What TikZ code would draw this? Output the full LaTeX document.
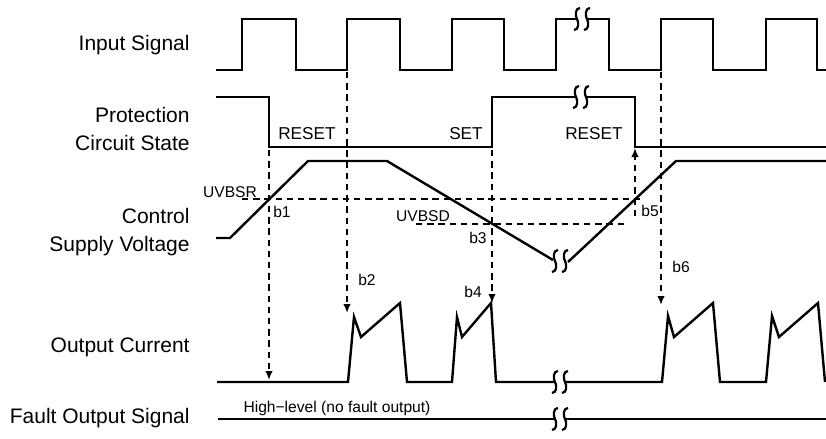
\documentclass[tikz,border=0pt]{standalone}
\usepackage{fontspec}
\setmainfont{Liberation Sans}
\usetikzlibrary{arrows.meta}
\tikzset{
  sig/.style={line width=1.2pt},
  guide/.style={line width=1.15pt,dash pattern=on 3.2pt off 2.4pt},
  probe/.style={guide,-{Latex[length=4.5pt,width=3.8pt]}},
  rowname/.style={font=\fontsize{10.5}{14}\selectfont,align=right,anchor=east,inner sep=0pt},
  statetxt/.style={font=\fontsize{8.6}{10}\selectfont,inner sep=0pt},
  smalltxt/.style={font=\fontsize{7.8}{9}\selectfont,inner sep=0pt},
}
\newcommand\brk[2]{%
  \fill[white] (#1-5,#2-4) rectangle (#1+5,#2+4);
  \foreach \dx in {-5,5}
    \draw[line width=1.1pt] (#1+\dx+3,#2-11) .. controls (#1+\dx-2,#2-11) and (#1+\dx-2,#2-3) .. (#1+\dx,#2)
      .. controls (#1+\dx+2,#2+3) and (#1+\dx+2,#2+11) .. (#1+\dx-3,#2+11);
}
\begin{document}
\begin{tikzpicture}[x=0.5pt,y=-0.5pt]
    \useasboundingbox (0,0) rectangle (826,439);
    % row names
    \node[rowname] (nin) at (190,45) {Input Signal};
    \node[rowname] (nps) at (190,129) {Protection\\Circuit State};
    \node[rowname] (ncv) at (190,232) {Control\\Supply Voltage};
    \node[rowname] (noc) at (190,347) {Output Current};
    \node[rowname] (nfo) at (190,418) {Fault Output Signal};
    % waveforms
    \draw[sig] (216,70) -| (242,19) -| (296,70) -| (347,19) -| (400,70) -| (452,19) -| (504,70) -| (556,19)
        -| (609,70) -| (661,19) -| (713,70) -| (766,19) -| (817,70) -- (826,70);
    \draw[sig] (216,97) -| (269,147) -| (492,97) -| (635,147) -- (826,147);
    \draw[sig] (216,238) -- (230,238) -- (308,161) -- (387,161) -- (553,260);
    \draw[sig] (568,262) -- (676,161) -- (826,161);
    \draw[sig] (217,382) -- (348,382) -- (354,317) -- (361,337) -- (400,303) -- (407,382) -- (452,382)
        -- (457,317) -- (462,337) -- (491,303) -- (496,382) -- (662,382) -- (668,316) -- (674,337)
        -- (713,303) -- (720,382) -- (766,382) -- (772,316) -- (779,337) -- (818,303) -- (825,382);
    \draw[sig] (218,419) -- (826,419);
    \brk{582}{19}
    \brk{581}{97}
    \brk{560}{261}
    \brk{560}{382}
    \brk{560}{419}
    % thresholds
    \draw[guide] (242,199) -- (643,199);
    \draw[guide] (416,224) -- (625,224);
    \node[smalltxt] (uvbsr) at (230,192) {UVBSR};
    \node[smalltxt] (uvbsd) at (423,216) {UVBSD};
    % timing points
    \coordinate (r1) at (269,150);
    \coordinate (o1) at (269,380);
    \coordinate (i2) at (347,72);
    \coordinate (o2) at (347,313);
    \coordinate (s3) at (492,150);
    \coordinate (o3) at (492,303);
    \coordinate (u5) at (635,216);
    \coordinate (r5) at (635,148);
    \coordinate (i6) at (661,72);
    \coordinate (o6) at (661,305);
    \draw[probe] (r1) -- (o1);
    \draw[probe] (i2) -- (o2);
    \draw[probe] (s3) -- (o3);
    \draw[probe] (u5) -- (r5);
    \draw[probe] (i6) -- (o6);
    % labels
    \node[statetxt] (rs1) at (307,134) {RESET};
    \node[statetxt] (st) at (466,134) {SET};
    \node[statetxt] (rs2) at (594,134) {RESET};
    \node[smalltxt] (b1) at (282,212) {b1};
    \node[smalltxt] (b2) at (367,280) {b2};
    \node[smalltxt] (b3) at (478,238) {b3};
    \node[smalltxt] (b4) at (473,292) {b4};
    \node[smalltxt] (b5) at (650,211) {b5};
    \node[smalltxt] (b6) at (681,267) {b6};
    \node[smalltxt] (hl) at (337,408) {High\textminus level (no fault output)};
\end{tikzpicture}
\end{document}
